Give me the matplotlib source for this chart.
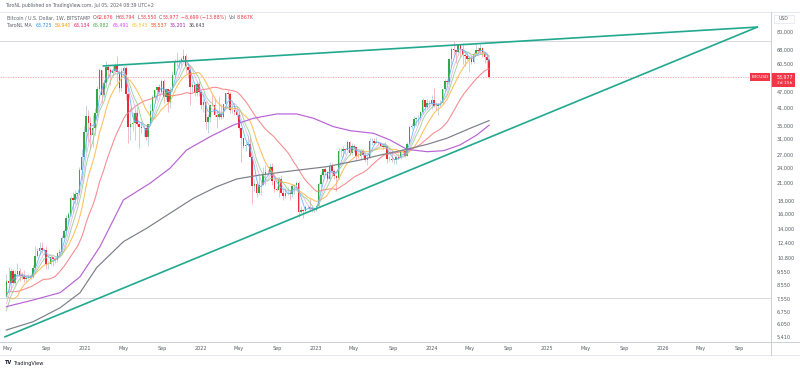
import matplotlib
matplotlib.use('Agg')
import matplotlib.pyplot as plt
import matplotlib.dates as mdates
from matplotlib.transforms import IdentityTransform, blended_transform_factory
from matplotlib.patches import Rectangle
import numpy as np
import pandas as pd

# ---------------- data ----------------
first_week = '2020-04-27'
# weekly closes before the visible window (only used to seed the moving averages)
pre_close = [7950, 8280, 7960, 9550, 9200, 8800, 8480, 7320, 7400, 7520, 7060, 7500, 7390, 7760,
             8900, 8650, 8360, 9390, 10150, 9920, 9660, 8530, 8030, 5360, 5830, 5880, 6780, 7100, 7130, 7700]

close = [
    # 2020 (from Apr 27)
    8890, 8720, 9680, 8720, 9450, 9650, 9330, 9300, 9010, 9070, 9300, 9160, 9930, 11060, 11580, 11850,
    11660, 11700, 10290, 10310, 10920, 10760, 10670, 11380, 11500, 13030, 13780, 15480, 16050, 18400,
    18190, 19150, 19270, 23720, 26440, 33000,
    # 2021
    38150, 35800, 32260, 34260, 39250, 48600, 57500, 46150, 51000, 59000, 57400, 55900, 57000, 59700,
    56250, 49000, 56600, 58300, 46400, 34700, 35600, 35800, 39100, 35500, 34700, 34200, 34200, 31800,
    35400, 39900, 45300, 48000, 49300, 47150, 51800, 45150, 48300, 43200, 48200, 54950, 61500, 61300,
    61300, 63300, 65000, 58700, 57300, 49400, 50100, 46700, 50800, 47300,
    # 2022
    41900, 43100, 36300, 37900, 42200, 42100, 38400, 37700, 38800, 37800, 42300, 46800, 46400, 40400,
    40400, 39500, 38500, 34300, 31300, 29400, 29500, 29900, 26600, 20550, 21000, 19300, 20800, 20800,
    22600, 23300, 23200, 24300, 21500, 20000, 19800, 21800, 19400, 18800, 19300, 19400, 19200, 20600,
    20800, 21150, 16300, 16600, 16450, 17100, 17100, 16800, 16850, 16600,
    # 2023
    17150, 20900, 22700, 23800, 23300, 21800, 24600, 23500, 22400, 22150, 28000, 27950, 28450, 28300,
    30300, 27600, 29250, 28900, 26900, 26750, 28100, 27100, 25850, 26350, 30500, 30550, 30150, 30250,
    30050, 29300, 29050, 29300, 26100, 26000, 25850, 25850, 26500, 26300, 27950, 27900, 26900, 29900,
    34500, 35000, 37050, 37400, 37450, 39450, 43800, 41400, 43000, 42250,
    # 2024
    43900, 41700, 41600, 42050, 43000, 48300, 52100, 51700, 63100, 68900, 68400, 67200, 71300, 69300,
    65600, 64900, 63100, 64000, 61500, 66300, 68500, 67800, 69600, 66600, 64300, 62676, 53977]

high = [
    9470, 10070, 9950, 9850, 9740, 10380, 9990, 9590, 9800, 9300, 9470, 9400, 10200, 12080, 11900, 12480,
    12480, 11800, 12090, 10600, 11100, 10990, 10950, 11500, 11720, 13350, 14100, 15970, 16350, 18800,
    19450, 19900, 19400, 24300, 28400, 34800,
    42000, 40100, 37850, 38500, 40950, 49700, 58350, 57500, 52600, 61800, 60600, 58300, 60000, 61250,
    64900, 57500, 58500, 59600, 59500, 46600, 40900, 39400, 40100, 41300, 36000, 36600, 35100, 34700,
    35500, 42300, 46100, 48100, 49500, 50500, 52900, 52900, 48800, 48400, 49200, 56600, 62900, 67000,
    63000, 64300, 69000, 66300, 59800, 59200, 51900, 50500, 52100, 52000,
    47600, 44400, 43500, 38900, 42600, 45900, 44800, 40000, 45400, 42600, 42400, 46900, 48200, 47100,
    42400, 42900, 40800, 40000, 34300, 31300, 30500, 32400, 31700, 26800, 21900, 21500, 22500, 21600,
    24300, 24700, 23600, 25200, 25100, 21900, 20600, 22300, 22600, 19800, 20200, 20400, 19900, 20900,
    21000, 21500, 21400, 17200, 16800, 17400, 17400, 18400, 17000, 16950,
    17250, 21200, 23300, 23900, 24250, 23400, 25300, 25100, 23900, 22600, 28800, 28800, 29200, 28800,
    31000, 30500, 30000, 29900, 28900, 27700, 28400, 28400, 27400, 26800, 31400, 31300, 31500, 31800,
    30400, 29900, 29700, 30200, 29500, 26800, 28200, 26100, 27000, 27500, 28100, 28600, 28000, 30300,
    35200, 35900, 38000, 37900, 38400, 39800, 44700, 43400, 44300, 43800,
    45900, 49000, 43200, 42800, 43800, 48600, 52800, 52900, 64000, 70200, 73800, 68200, 71600, 71300,
    72800, 66900, 67200, 64800, 65500, 67400, 71900, 70000, 72000, 70000, 67000, 64500, 63794]

low = [
    7680, 8110, 8200, 8700, 8630, 9260, 8900, 9000, 8830, 8900, 9050, 9000, 9120, 9900, 10960, 11130,
    11360, 11120, 9900, 9820, 10200, 10140, 10400, 10500, 11170, 11400, 12960, 13200, 14800, 15800,
    16200, 17600, 17600, 19000, 21800, 25900,
    27700, 30300, 28800, 29100, 32300, 38000, 47000, 43000, 45000, 49300, 53500, 50300, 55000, 55400,
    51500, 47000, 47500, 53000, 43800, 30000, 31000, 33300, 31000, 34800, 28800, 32700, 32100, 31000,
    29300, 35200, 37500, 43000, 43900, 46300, 46700, 42900, 44000, 39600, 40800, 47000, 54000, 59500,
    58000, 59400, 62300, 55600, 53300, 42000, 47300, 45700, 45600, 45700,
    40600, 39600, 34000, 32900, 36200, 41700, 37900, 34300, 37200, 37200, 37600, 40900, 44500, 39300,
    39200, 38600, 37700, 33700, 25400, 28700, 28000, 29300, 26500, 17600, 19600, 18600, 19200, 18900,
    20700, 20700, 22400, 22700, 20800, 19500, 19600, 18600, 19300, 18200, 18500, 19000, 18200, 18700,
    19200, 20100, 15600, 16200, 15500, 16200, 16900, 16500, 16300, 16300,
    16500, 17100, 20400, 22300, 22600, 21400, 21500, 22700, 21900, 19600, 21800, 26600, 26500, 27200,
    28200, 27100, 27000, 27700, 25800, 26300, 25900, 26500, 25400, 24800, 26300, 29500, 29800, 30000,
    29500, 29000, 28600, 28800, 25200, 25700, 25500, 24900, 24900, 26000, 26100, 27200, 26600, 26800,
    29700, 33900, 34500, 34800, 35700, 36700, 39000, 40200, 40600, 41300,
    40700, 41500, 40200, 38500, 41800, 42300, 47700, 50600, 50800, 59000, 64500, 60800, 66400, 64500,
    60600, 59600, 62400, 56500, 60200, 60800, 66000, 66700, 66000, 64100, 60800, 58400, 53550]

# long moving averages
ma100_dates = ['2020-04-27', '2020-07-21', '2020-10-14', '2020-12-16', '2021-02-17', '2021-05-02',
               '2021-07-25', '2021-09-26', '2021-11-18', '2022-01-31', '2022-04-15', '2022-06-17',
               '2022-08-30', '2022-11-01', '2022-12-24', '2023-02-25', '2023-04-19', '2023-07-02',
               '2023-08-23', '2023-10-15', '2023-12-18', '2024-02-08', '2024-03-31', '2024-05-23',
               '2024-07-01']
ma100_vals = [7070, 7500, 8000, 9210, 12020, 18160, 21050, 24030, 28260, 31780, 35250, 37400,
              38860, 38860, 37400, 34730, 33520, 32740, 30860, 28430, 27830, 28080, 29540, 32260,
              35200]
ma200_dates = ['2020-04-27', '2020-07-21', '2020-10-14', '2020-12-16', '2021-02-07', '2021-05-02',
               '2021-07-15', '2021-09-26', '2021-12-09', '2022-02-21', '2022-04-25', '2022-07-08',
               '2022-10-21', '2023-02-04', '2023-05-20', '2023-07-23', '2023-10-15', '2023-12-18',
               '2024-02-18', '2024-05-02', '2024-07-01']
ma200_vals = [5750, 6190, 7000, 8000, 10000, 12560, 14150, 16140, 18430, 20420, 21860, 22650,
              23530, 24380, 25860, 27030, 28430, 29700, 31330, 34240, 36640]

# drawn trend lines and levels
upper_line_dates = ['2021-02-27', '2026-10-27']
upper_line_prices = [59400, 83800]
lower_line_dates = ['2020-04-22', '2026-10-27']
lower_line_prices = [5410, 83800]
level_prices = [74100, 7630]
last_price = 53977

price_ticks = [80000, 68000, 60500, 47000, 41000, 35000, 31000, 27000, 24000, 21000, 18000,
               16000, 14000, 12400, 10800, 9550, 8550, 7550, 6750, 6050, 5410]
time_tick_dates = ['2020-05-01', '2020-09-01', '2021-01-01', '2021-05-01', '2021-09-01', '2022-01-01',
                   '2022-05-01', '2022-09-01', '2023-01-01', '2023-05-01', '2023-09-01', '2024-01-01',
                   '2024-05-01', '2024-09-01', '2025-01-01', '2025-05-01', '2025-09-01', '2026-01-01',
                   '2026-05-01', '2026-09-01']
time_tick_labels = ['May', 'Sep', '2021', 'May', 'Sep', '2022', 'May', 'Sep', '2023', 'May', 'Sep',
                    '2024', 'May', 'Sep', '2025', 'May', 'Sep', '2026', 'May', 'Sep']

ma_values_text = ['63,725', '59,940', '63,134', '65,982', '65,491', '65,545', '58,537', '35,201', '36,643']
ma_values_colors = ['#2196f3', '#ff9800', '#e91e63', '#4caf50', '#e040fb', '#fbc02d', '#f4511e',
                    '#9c27b0', '#434651']

# ---------------- figure ----------------
W, H = 800, 370
fig = plt.figure(figsize=(8, 3.7), dpi=100)
fig.patch.set_facecolor('white')
ax = fig.add_axes([0, 1 - 342 / H, 771 / W, (342 - 12) / H])
for s in ax.spines.values():
    s.set_visible(False)

dates = pd.date_range(first_week, periods=len(close), freq='7D')
x = mdates.date2num(dates)
c = np.array(close, float)
o = np.array([pre_close[-1]] + close[:-1], float)
h = np.maximum(np.array(high, float), np.maximum(o, c))
l = np.minimum(np.array(low, float), np.minimum(o, c))
up = c >= o

body_up, body_dn = '#32a846', '#f0283c'
wick_up, wick_dn = '#a9cfdc', '#f6a8b0'
ax.vlines(x[up], l[up], h[up], color=wick_up, lw=0.55, zorder=2)
ax.vlines(x[~up], l[~up], h[~up], color=wick_dn, lw=0.55, zorder=2)
bw = 4.8
ax.bar(x[up], (c - o)[up], bottom=o[up], width=bw, color=body_up, lw=0, zorder=2.5)
ax.bar(x[~up], (o - c)[~up], bottom=c[~up], width=bw, color=body_dn, lw=0, zorder=2.5)

all_close = pd.Series(pre_close + close, dtype=float)
npre = len(pre_close)
def sma(n):
    return all_close.rolling(n).mean().to_numpy()[npre:]

ax.plot(x, sma(30), color='#f77b80', lw=0.75, alpha=0.9, zorder=3)
ax.plot(x, sma(13), color='#ffb74d', lw=0.75, alpha=0.9, zorder=3)
ax.plot(x, sma(8), color='#8fd08f', lw=0.65, alpha=0.9, zorder=3)
ax.plot(x, sma(6), color='#d6a2e6', lw=0.55, alpha=0.8, zorder=3)
ax.plot(x, sma(4), color='#64b5f6', lw=0.65, alpha=0.9, zorder=3)
ax.plot(mdates.date2num(pd.to_datetime(ma100_dates)), ma100_vals, color='#b862d6', lw=0.85, zorder=3)
ax.plot(mdates.date2num(pd.to_datetime(ma200_dates)), ma200_vals, color='#7b7e88', lw=0.85, zorder=3)

teal = '#22a88f'
ax.plot(mdates.date2num(pd.to_datetime(upper_line_dates)), upper_line_prices, color=teal, lw=1.2, zorder=4,
        solid_capstyle='round')
ax.plot(mdates.date2num(pd.to_datetime(lower_line_dates)), lower_line_prices, color=teal, lw=1.2, zorder=4,
        solid_capstyle='round')
for lv in level_prices:
    ax.axhline(lv, color='#d6d8de', lw=0.7, zorder=1)
ax.axhline(last_price, color='#f5a0a8', lw=0.6, ls=(0, (1.5, 1.5)), zorder=1)

ax.set_yscale('log')
ax.set_ylim(5172, 95736)
ax.set_xlim(mdates.date2num(pd.Timestamp('2020-04-07')), mdates.date2num(pd.Timestamp('2026-12-09')))
ax.yaxis.set_major_locator(matplotlib.ticker.NullLocator())
ax.yaxis.set_minor_locator(matplotlib.ticker.NullLocator())
ax.set_xticks(mdates.date2num(pd.to_datetime(time_tick_dates)))
ax.set_xticklabels(time_tick_labels)
ax.tick_params(axis='x', length=0, pad=3.0, labelsize=3.5, colors='#555a63')
ax.xaxis.set_minor_locator(matplotlib.ticker.NullLocator())

# price axis labels
trans = blended_transform_factory(ax.transAxes, ax.transData)
for p in price_ticks:
    ax.text(777 / 771, p, f'{p:,}', transform=trans, fontsize=3.5, color='#555a63', va='center', ha='left',
            clip_on=False)

ident = IdentityTransform()
def px(xp, yp):
    return xp, H - yp

# frame lines
line_col = '#e0e3eb'
fig.add_artist(plt.Line2D([0, 800], [H - 12, H - 12], transform=ident, color=line_col, lw=0.6))
fig.add_artist(plt.Line2D([0, 800], [H - 342, H - 342], transform=ident, color='#c3c6ce', lw=0.6))
fig.add_artist(plt.Line2D([0, 800], [H - 355, H - 355], transform=ident, color=line_col, lw=0.6))
fig.add_artist(plt.Line2D([771, 771], [H - 12, H - 355], transform=ident, color='#c3c6ce', lw=0.6))

# USD box
fig.add_artist(Rectangle(px(774, 23), 20, 8.5, transform=ident, facecolor='white', edgecolor=line_col, lw=0.5))
fig.text(*px(784, 18.8), 'USD', transform=ident, fontsize=3.3, color='#555a63', ha='center', va='center')

# price tags
red = '#f23645'
fig.add_artist(Rectangle(px(771, 86.5), 24, 14, transform=ident, facecolor=red, edgecolor='none'))
fig.text(*px(777, 76.8), '53,977', transform=ident, fontsize=3.4, color='white', ha='left', va='center')
fig.text(*px(777, 82.5), '2d 15h', transform=ident, fontsize=3.2, color='white', ha='left', va='center')
fig.add_artist(Rectangle(px(750, 80.8), 20, 7.5, transform=ident, facecolor=red, edgecolor='none'))
fig.text(*px(760, 77.0), 'BTCUSD', transform=ident, fontsize=3.1, color='white', ha='center', va='center')

# texts
fig.canvas.draw()
renderer = fig.canvas.get_renderer()

def runs(xp, yp, parts, size):
    for txt, col, gap in parts:
        xp += gap
        t = fig.text(*px(xp, yp), txt, transform=ident, fontsize=size, color=col, ha='left', va='center')
        bb = t.get_window_extent(renderer)
        xp = bb.x1
    return xp

gray_t = '#5d606b'
fig.text(*px(5, 6), 'TaroNL published on TradingView.com, Jul 05, 2024 08:39 UTC+2', transform=ident,
         fontsize=3.3, color=gray_t, ha='left', va='center')
runs(7, 17.6, [('Bitcoin / U.S. Dollar, 1W, BITSTAMP', gray_t, 0),
               ('O', gray_t, 2.5), ('62,676', red, 0.3),
               ('H', gray_t, 2.0), ('63,794', red, 0.3),
               ('L', gray_t, 2.0), ('53,550', red, 0.3),
               ('C', gray_t, 2.0), ('53,977', red, 0.3),
               ('\u22128,699 (\u221213.88%)', red, 2.5),
               ('Vol', gray_t, 2.5), ('8.867K', red, 0.3)], 3.4)
parts = [('TaroNL MA', gray_t, 0)]
for i, (v, col) in enumerate(zip(ma_values_text, ma_values_colors)):
    parts.append((v, col, 4.0 if i == 0 else 2.6))
runs(7, 25.2, parts, 3.4)

# TradingView logo
fig.text(*px(5, 363), 'TV', transform=ident, fontsize=3.6, color='#131722', ha='left', va='center',
         fontweight='bold')
fig.text(*px(13, 363), 'TradingView', transform=ident, fontsize=3.6, color='#131722', ha='left', va='center')

fig.savefig('out.png', dpi=100, facecolor='white')
